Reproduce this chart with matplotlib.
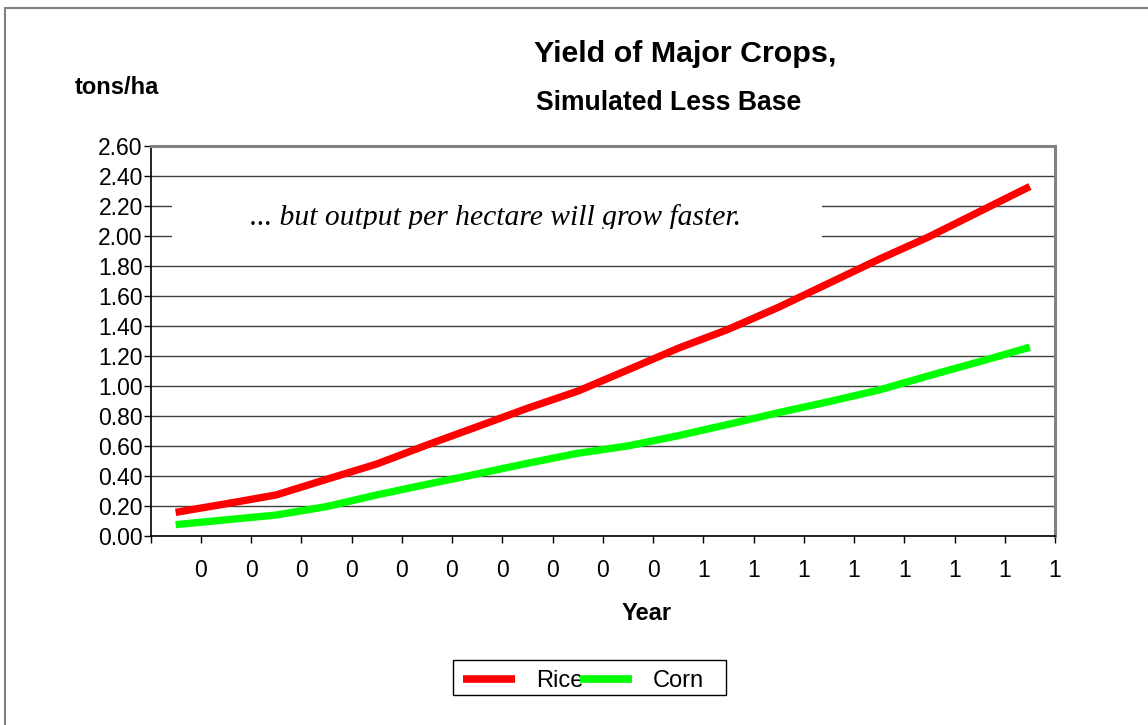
import numpy as np
import matplotlib
matplotlib.use("Agg")
import matplotlib.pyplot as plt
from matplotlib.patches import Rectangle

# ---- data ----
categories = list(range(18))
tick_labels = ["0"] * 10 + ["1"] * 8
rice = [0.157, 0.214, 0.273, 0.377, 0.479, 0.606, 0.728, 0.851, 0.965,
        1.107, 1.251, 1.378, 1.525, 1.685, 1.845, 1.996, 2.163, 2.330]
corn = [0.075, 0.107, 0.139, 0.195, 0.273, 0.344, 0.413, 0.484, 0.551,
        0.600, 0.668, 0.744, 0.822, 0.895, 0.973, 1.069, 1.162, 1.258]
series_names = ["Rice", "Corn"]
y_ticks = [round(0.2 * i, 2) for i in range(14)]

title = "Yield of Major Crops,"
subtitle = "Simulated Less Base"
y_label = "tons/ha"
x_label = "Year"
note = "... but output per hectare will grow faster."

plt.rcParams["font.family"] = ["Liberation Sans", "DejaVu Sans"]

W, H = 1148, 725
fig = plt.figure(figsize=(W / 100, H / 100), dpi=100)
fig.patch.set_facecolor("white")

# outer frame
fig.patches.append(Rectangle((5 / W, -0.1), 1.2, 1 - 8 / H + 0.1,
                             transform=fig.transFigure, fill=False,
                             edgecolor="#808080", linewidth=1.5))

left, right, top, bottom = 150.5, 1055, 146, 535.9
ax = fig.add_axes([left / W, 1 - bottom / H, (right - left) / W, (bottom - top) / H])

x = np.array(categories)
ax.plot(x, rice, color="#ff0000", lw=5.3, solid_capstyle="butt",
        solid_joinstyle="miter", zorder=3, label=series_names[0])
ax.plot(x, corn, color="#00ff00", lw=5.3, solid_capstyle="butt",
        solid_joinstyle="miter", zorder=3, label=series_names[1])

ax.set_xlim(-0.5, len(categories) - 0.5)
ax.set_ylim(0, 2.6)
ax.set_yticks(y_ticks)
ax.set_yticklabels([f"{v:.2f}" for v in y_ticks], fontsize=16.5)
ax.set_xticks(np.arange(-0.5, len(categories)))
ax.set_xticklabels([""] + tick_labels, fontsize=16.5)
ax.tick_params(axis="y", length=5, width=1, pad=0.5, color="black")
ax.tick_params(axis="x", length=5, width=1, pad=11.5, color="black")

ax.set_axisbelow(True)
ax.yaxis.grid(True, color="#404040", lw=1.0)
ax.xaxis.grid(False)

for s in ["left", "bottom"]:
    ax.spines[s].set_color("black")
    ax.spines[s].set_linewidth(1.2)
for s in ["top", "right"]:
    ax.spines[s].set_color("#808080")
    ax.spines[s].set_linewidth(2.2)

# white note box with clipped italic text
def ax_x(px):
    return (px - left) / (right - left)

def ax_y(py):
    return (bottom - py) / (bottom - top)

box = Rectangle((ax_x(172), ax_y(238)), ax_x(822) - ax_x(172), ax_y(195) - ax_y(238),
                transform=ax.transAxes, facecolor="white", edgecolor="none", zorder=1)
ax.add_patch(box)
clip = Rectangle((ax_x(172), ax_y(229)), ax_x(822) - ax_x(172), ax_y(195) - ax_y(229),
                 transform=ax.transAxes, facecolor="none", edgecolor="none")
ax.add_patch(clip)
t = ax.text(ax_x(250), ax_y(225), note, transform=ax.transAxes,
            family=["Liberation Serif", "DejaVu Serif"], style="italic",
            fontsize=21.3, ha="left", va="baseline", zorder=2)
t.set_clip_path(clip)
t.set_clip_on(True)

# titles and labels
fig.text(534 / W, 1 - 61.7 / H, title, fontsize=21.9, fontweight="bold",
         ha="left", va="baseline")
fig.text(536 / W, 1 - 110 / H, subtitle, fontsize=19.1, fontweight="bold",
         ha="left", va="baseline")
fig.text(75 / W, 1 - 94 / H, y_label, fontsize=17, fontweight="bold",
         ha="left", va="baseline")
fig.text(646.7 / W, 1 - 620 / H, x_label, fontsize=17, fontweight="bold",
         ha="center", va="baseline")

# legend (frame drawn separately to match the original box)
leg = ax.legend(loc="center left", bbox_to_anchor=(453 / W, 1 - 681 / H),
                bbox_transform=fig.transFigure, ncol=2, fontsize=17,
                handlelength=2.2, handletextpad=0.9, columnspacing=-0.15,
                borderpad=0.42, borderaxespad=0, frameon=False)
for line in leg.get_lines():
    line.set_linewidth(5.5)
fig.patches.append(Rectangle((453 / W, 1 - 694.5 / H), (726 - 453) / W, 34.5 / H,
                             transform=fig.transFigure, fill=False,
                             edgecolor="black", linewidth=1.0))

fig.savefig("out.png", dpi=100)
